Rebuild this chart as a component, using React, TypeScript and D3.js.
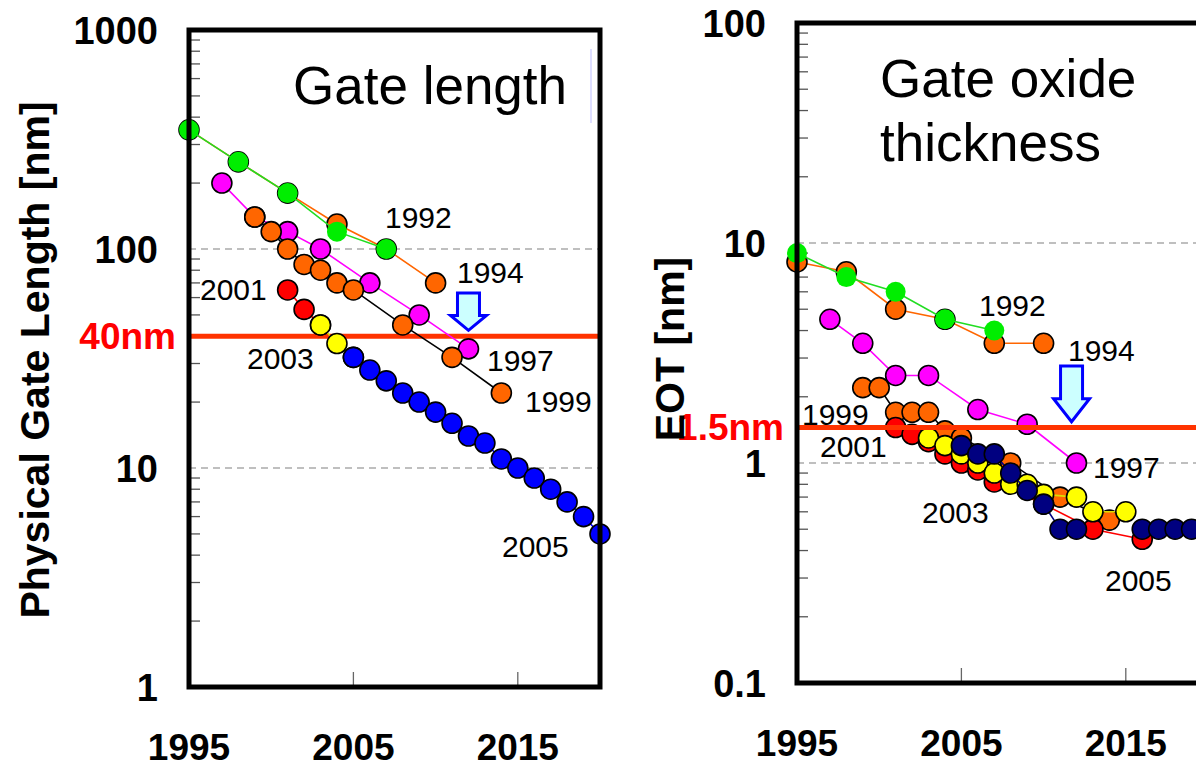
import React from 'react'
import * as d3 from 'd3'

// Gate length [nm], ITRS/NTRS roadmap editions
const glYears1992 = [1995, 1998, 2001, 2004, 2007]
const glValues1992 = [350, 250, 180, 120, 100]
const glYears1994 = [1995, 1998, 2001, 2004, 2007, 2010]
const glValues1994 = [350, 250, 180, 130, 100, 70]
const glYears1997 = [1997, 1999, 2001, 2003, 2006, 2009, 2012]
const glValues1997 = [200, 140, 120, 100, 70, 50, 35]
const glYears1999 = [1999, 2000, 2001, 2002, 2003, 2004, 2005, 2008, 2011, 2014]
const glValues1999 = [140, 120, 100, 85, 80, 70, 65, 45, 32, 22]
const glYears2001 = [2001, 2002, 2003]
const glValues2001 = [65, 53, 45]
const glYears2003 = [2003, 2004, 2005]
const glValues2003 = [45, 37, 32]
const glYears2005 = [2005, 2006, 2007, 2008, 2009, 2010, 2011, 2012, 2013, 2014, 2015, 2016, 2017, 2018, 2019, 2020]
const glValues2005 = [32, 28, 25, 22, 20, 18, 16, 14, 13, 11, 10, 9, 8, 7, 6, 5]

// EOT [nm]
const eotYears1992 = [1995, 1998, 2001, 2004, 2007]
const eotValues1992 = [9, 7, 6, 4.5, 4]
const eotYears1994 = [1995, 1998, 2001, 2004, 2007, 2010]
const eotValues1994 = [8.2, 7.4, 5, 4.5, 3.5, 3.5]
const eotYears1997 = [1997, 1999, 2001, 2003, 2006, 2009, 2012]
const eotValues1997 = [4.5, 3.5, 2.5, 2.5, 1.75, 1.5, 1.0]
const eotYears1999 = [1999, 2000, 2001, 2002, 2003, 2004, 2005, 2008, 2011, 2014]
const eotValues1999 = [2.2, 2.2, 1.7, 1.7, 1.7, 1.4, 1.3, 1.0, 0.7, 0.55]
const eotYears2001 = [2001, 2002, 2003, 2004, 2005, 2006, 2007, 2010, 2013, 2016]
const eotValues2001 = [1.45, 1.35, 1.25, 1.1, 1.0, 0.93, 0.82, 0.65, 0.5, 0.45]
const eotYears2003 = [2003, 2004, 2005, 2006, 2007, 2008, 2009, 2010, 2012, 2013, 2015]
const eotValues2003 = [1.3, 1.2, 1.1, 1.0, 0.9, 0.8, 0.8, 0.72, 0.7, 0.6, 0.6]
const eotYears2005 = [2005, 2006, 2007, 2008, 2009, 2010, 2011, 2012, 2013, 2014, 2015, 2016, 2017, 2018, 2019, 2020]
const eotValues2005 = [1.2, 1.1, 1.1, 0.9, 0.75, 0.65, 0.5, 0.5, null, null, null, 0.5, 0.5, 0.5, 0.5, 0.5]

const xTickYears = [1995, 2005, 2015]
const glTickValues = [1, 10, 100, 1000]
const glTickLabels = ['1', '10', '100', '1000']
const eotTickValues = [0.1, 1, 10, 100]
const eotTickLabels = ['0.1', '1', '10', '100']

const glLimit = 40
const eotLimit = 1.45

const FONT = 'Liberation Sans, Arial, Helvetica, sans-serif'

const zip = (years, values) => years.map((yr, i) => [yr, values[i]])

const glSeries = [
  { data: zip(glYears1994, glValues1994), fill: '#ff6600', stroke: '#ff6600', outline: true },
  { data: zip(glYears1992, glValues1992), fill: '#00ee00', stroke: '#22dd22', outline: false },
  { data: zip(glYears1997, glValues1997), fill: '#ff00ff', stroke: '#ff00ff', outline: true },
  { data: zip(glYears1999, glValues1999), fill: '#ff6600', stroke: '#000000', outline: true },
  { data: zip(glYears2001, glValues2001), fill: '#ff0000', stroke: '#ff0000', outline: true },
  { data: zip(glYears2003, glValues2003), fill: '#ffff00', stroke: '#dddd00', outline: true },
  { data: zip(glYears2005, glValues2005), fill: '#0000ff', stroke: '#0000ff', outline: true },
]

const eotSeries = [
  { data: zip(eotYears1994, eotValues1994), fill: '#ff6600', stroke: '#ff6600', outline: true },
  { data: zip(eotYears1992, eotValues1992), fill: '#00ee00', stroke: '#22dd22', outline: false },
  { data: zip(eotYears1997, eotValues1997), fill: '#ff00ff', stroke: '#ff00ff', outline: true },
  { data: zip(eotYears1999, eotValues1999), fill: '#ff6600', stroke: '#000000', outline: true },
  { data: zip(eotYears2001, eotValues2001), fill: '#ff0000', stroke: '#ff0000', outline: true },
  { data: zip(eotYears2003, eotValues2003), fill: '#ffff00', stroke: '#dddd00', outline: true },
  { data: zip(eotYears2005, eotValues2005), fill: '#000080', stroke: '#000080', outline: true },
]

function Arrow({ x, yTop, yTip, headLen }) {
  const shaft = 11
  const head = 18
  const yHead = yTip - headLen
  const d = `M${x - shaft},${yTop} L${x + shaft},${yTop} L${x + shaft},${yHead} L${x + head},${yHead} L${x},${yTip} L${x - head},${yHead} L${x - shaft},${yHead} Z`
  return <path d={d} fill='#ccffff' stroke='#0000ff' strokeWidth={3} strokeLinejoin='miter' />
}

function Panel(props) {
  const { left, top, bottom, yDomain, series, tickValues, tickLabels, limit, limitLabel, limitOnTop, arrow, children } = props
  const xScale = d3.scaleLinear().domain([1995, 2020]).range([left, left + 411])
  const yScale = d3.scaleLog().domain(yDomain).range([bottom, top])
  const right = xScale(2020)

  const line = d3.line()
    .defined(d => d[1] != null)
    .x(d => xScale(d[0]))
    .y(d => yScale(d[1]))

  const isDecade = v => Math.abs(Math.log10(v) - Math.round(Math.log10(v))) < 1e-6
  const allTicks = yScale.ticks()
  const minor = allTicks.filter(v => !isDecade(v))
  const grid = allTicks.filter(v => isDecade(v) && v > yDomain[0] && v < yDomain[1])

  const limitLine = (
    <g>
      <line x1={left} x2={right} y1={yScale(limit)} y2={yScale(limit)} stroke='#ff3300' strokeWidth={5} />
      <text x={left - 13} y={yScale(limit)} dy='0.35em' textAnchor='end' fontFamily={FONT}
        fontWeight='bold' fontSize={37} fill='#ff0000'>{limitLabel}</text>
    </g>
  )

  return (
    <g>
      {grid.map(v => (
        <line key={'g' + v} x1={left} x2={right} y1={yScale(v)} y2={yScale(v)}
          stroke='#aaaaaa' strokeWidth={1.3} strokeDasharray='7,5' />
      ))}
      {minor.map(v => (
        <line key={'m' + v} x1={left} x2={left + 11} y1={yScale(v)} y2={yScale(v)} stroke='#555' strokeWidth={1.3} />
      ))}
      {xTickYears.slice(1).map(yr => (
        <line key={'xt' + yr} x1={xScale(yr)} x2={xScale(yr)} y1={bottom} y2={bottom - 15} stroke='#666' strokeWidth={1.3} />
      ))}
      {!limitOnTop && limitLine}
      {series.map((s, i) => (
        <g key={i}>
          <path d={line(s.data)} fill='none' stroke={s.stroke} strokeWidth={1.6} />
          {s.data.filter(d => d[1] != null).map((d, j) => (
            <circle key={j} cx={xScale(d[0])} cy={yScale(d[1])} r={10} fill={s.fill}
              stroke={s.outline ? '#000' : 'none'} strokeWidth={1.6} />
          ))}
        </g>
      ))}
      {limitOnTop && limitLine}
      <Arrow x={xScale(arrow.year)} yTop={yScale(arrow.from)} yTip={yScale(arrow.to)} headLen={arrow.headLen} />
      <rect x={left} y={top} width={right - left} height={bottom - top} fill='none' stroke='#000' strokeWidth={5} />
      {tickValues.map((v, i) => (
        <text key={'yl' + v} x={left - 31} y={yScale(v)} dy='0.36em' textAnchor='end' fontFamily={FONT}
          fontWeight='bold' fontSize={38}>{tickLabels[i]}</text>
      ))}
      {xTickYears.map(yr => (
        <text key={'xl' + yr} x={xScale(yr)} y={bottom + 73} textAnchor='middle' fontFamily={FONT}
          fontWeight='bold' fontSize={37}>{yr}</text>
      ))}
      {children}
    </g>
  )
}

const labelStyle = { fontFamily: FONT, fontSize: 30, fill: '#000' }

export default function App() {
  return (
    <svg width={1196} height={768} style={{ position: 'absolute', left: 0, top: 0, background: '#fff' }}>
      <rect width={1196} height={768} fill='#fff' />
      <Panel left={189} top={30} bottom={687} yDomain={[1, 1000]} series={glSeries}
        tickValues={glTickValues} tickLabels={glTickLabels} limit={glLimit} limitLabel='40nm'
        limitOnTop={false} arrow={{ year: 2012, from: 63, to: 42.5, headLen: 15 }}>
        <text x={293} y={104} fontFamily={FONT} fontSize={53}>Gate length</text>
        <line x1={591} x2={591} y1={49} y2={123} stroke='#c8c8ff' strokeWidth={1.2} />
        <text transform='translate(49,360) rotate(-90)' textAnchor='middle' fontFamily={FONT}
          fontWeight='bold' fontSize={41}>Physical Gate Length [nm]</text>
        <text x={385} y={228} style={labelStyle}>1992</text>
        <text x={457} y={283} style={labelStyle}>1994</text>
        <text x={200} y={300} style={labelStyle}>2001</text>
        <text x={247} y={369} style={labelStyle}>2003</text>
        <text x={487} y={371} style={labelStyle}>1997</text>
        <text x={525} y={412} style={labelStyle}>1999</text>
        <text x={502} y={557} style={labelStyle}>2005</text>
      </Panel>
      <Panel left={797} top={23} bottom={683} yDomain={[0.1, 100]} series={eotSeries}
        tickValues={eotTickValues} tickLabels={eotTickLabels} limit={eotLimit} limitLabel='1.5nm'
        limitOnTop={true} arrow={{ year: 2011.7, from: 2.76, to: 1.54, headLen: 23 }}>
        <text x={880} y={97} fontFamily={FONT} fontSize={53}>Gate oxide</text>
        <text x={880} y={161} fontFamily={FONT} fontSize={53}>thickness</text>
        <text transform='translate(684,349) rotate(-90)' textAnchor='middle' fontFamily={FONT}
          fontWeight='bold' fontSize={41}>EOT [nm]</text>
        <text x={979} y={316} style={labelStyle}>1992</text>
        <text x={1068} y={361} style={labelStyle}>1994</text>
        <text x={802} y={425} style={labelStyle}>1999</text>
        <text x={820} y={457} style={labelStyle}>2001</text>
        <text x={1093} y={478} style={labelStyle}>1997</text>
        <text x={922} y={523} style={labelStyle}>2003</text>
        <text x={1105} y={591} style={labelStyle}>2005</text>
      </Panel>
    </svg>
  )
}
